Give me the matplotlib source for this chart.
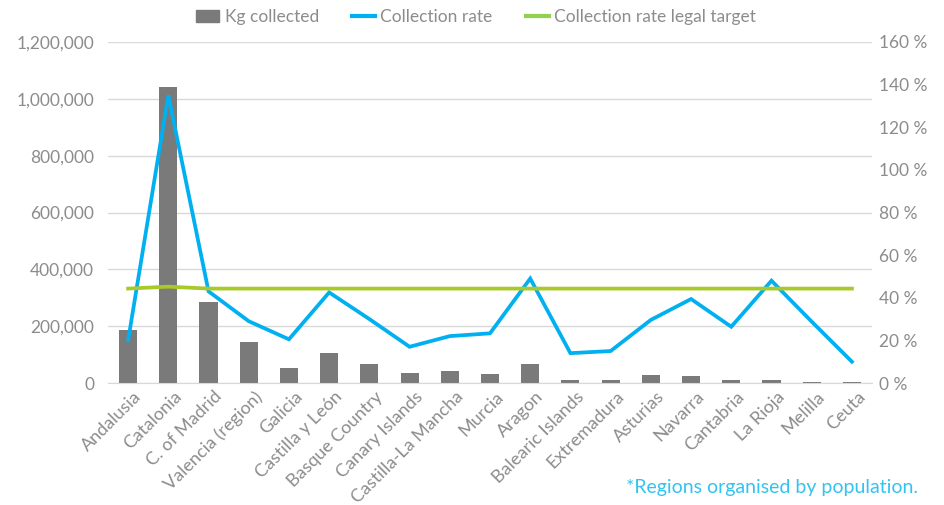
import matplotlib
matplotlib.use("Agg")
import matplotlib.pyplot as plt
import matplotlib.transforms as mtransforms
from matplotlib.patches import Patch
from matplotlib.lines import Line2D
from matplotlib.ticker import FuncFormatter, MultipleLocator

regions = ["Andalusia", "Catalonia", "C. of Madrid", "Valencia (region)", "Galicia",
           "Castilla y León", "Basque Country", "Canary Islands", "Castilla-La Mancha",
           "Murcia", "Aragon", "Balearic Islands", "Extremadura", "Asturias", "Navarra",
           "Cantabria", "La Rioja", "Melilla", "Ceuta"]
kg_collected = [185000, 1040000, 285000, 145000, 54000, 107000, 66000, 35000, 42000,
                32000, 66000, 12000, 12000, 28000, 24000, 12000, 12000, 2000, 2000]
collection_rate = [20, 135, 43, 29, 20.5, 42.5, 30, 17, 22, 23.3, 49, 14, 15, 29.6,
                   39.4, 26.4, 48, 28.8, 10]
legal_target = [44.3, 45.2, 44.3, 44.3, 44.3, 44.3, 44.3, 44.3, 44.3, 44.3, 44.3, 44.3,
                44.3, 44.3, 44.3, 44.3, 44.3, 44.3, 44.3]

plt.rcParams['font.family'] = ['Lato', 'DejaVu Sans']
txt = '#8c8c8c'
bar_c = '#7a7a7a'
blue = '#00b0f0'
green = '#a9c82a'

fig = plt.figure(figsize=(9.44, 5.05), dpi=100)
ax = fig.add_axes([108/944, 1-383/505, (872-108)/944, (383-42)/505])
ax2 = ax.twinx()

x = list(range(len(regions)))
ax.bar(x, kg_collected, width=0.45, color=bar_c, zorder=2)
ax2.plot(x, collection_rate, color=blue, lw=2.7, zorder=3, solid_joinstyle='miter')
ax2.plot(x, legal_target, color=green, lw=2.7, zorder=4)

ax.set_xlim(-0.5, len(regions) - 0.5)
ax.set_ylim(0, 1200000)
ax2.set_ylim(0, 160)
ax.yaxis.set_major_locator(MultipleLocator(200000))
ax2.yaxis.set_major_locator(MultipleLocator(20))
ax.yaxis.set_major_formatter(FuncFormatter(lambda v, p: f"{int(v):,}"))
ax2.yaxis.set_major_formatter(FuncFormatter(lambda v, p: f"{int(v)} %"))

ax.grid(axis='y', color='#d9d9d9', lw=1, zorder=0)
ax.set_axisbelow(True)
for a in (ax, ax2):
    for s in a.spines.values():
        s.set_visible(False)
ax.spines['bottom'].set_visible(True)
ax.spines['bottom'].set_color('#d9d9d9')

ax.tick_params(axis='y', length=0, pad=10, labelsize=12.5, labelcolor=txt)
ax2.tick_params(axis='y', length=0, pad=5, labelsize=12.5, labelcolor=txt)
ax.tick_params(axis='x', length=0, pad=4, labelcolor=txt)
ax.set_xticks(x)
ax.set_xticklabels(regions, rotation=45, ha='right', rotation_mode='anchor', fontsize=13)
offset = mtransforms.ScaledTranslation(5/100, 0, fig.dpi_scale_trans)
for lbl in ax.get_xticklabels():
    lbl.set_transform(lbl.get_transform() + offset)

handles = [Patch(color=bar_c), Line2D([], [], color=blue, lw=3), Line2D([], [], color='#92d050', lw=3)]
labels = ["Kg collected", "Collection rate", "Collection rate legal target"]
fig.legend(handles, labels, loc='center', bbox_to_anchor=(476/944, 1-17/505), ncol=3,
           frameon=False, fontsize=12.5, labelcolor=txt, handlelength=1.35, handletextpad=0.3,
           columnspacing=1.9)

fig.text(918/944, 1-487/505, "*Regions organised by population.", color='#33c3f0',
         fontsize=14, ha='right', va='center')

fig.savefig("out.png", dpi=100)
